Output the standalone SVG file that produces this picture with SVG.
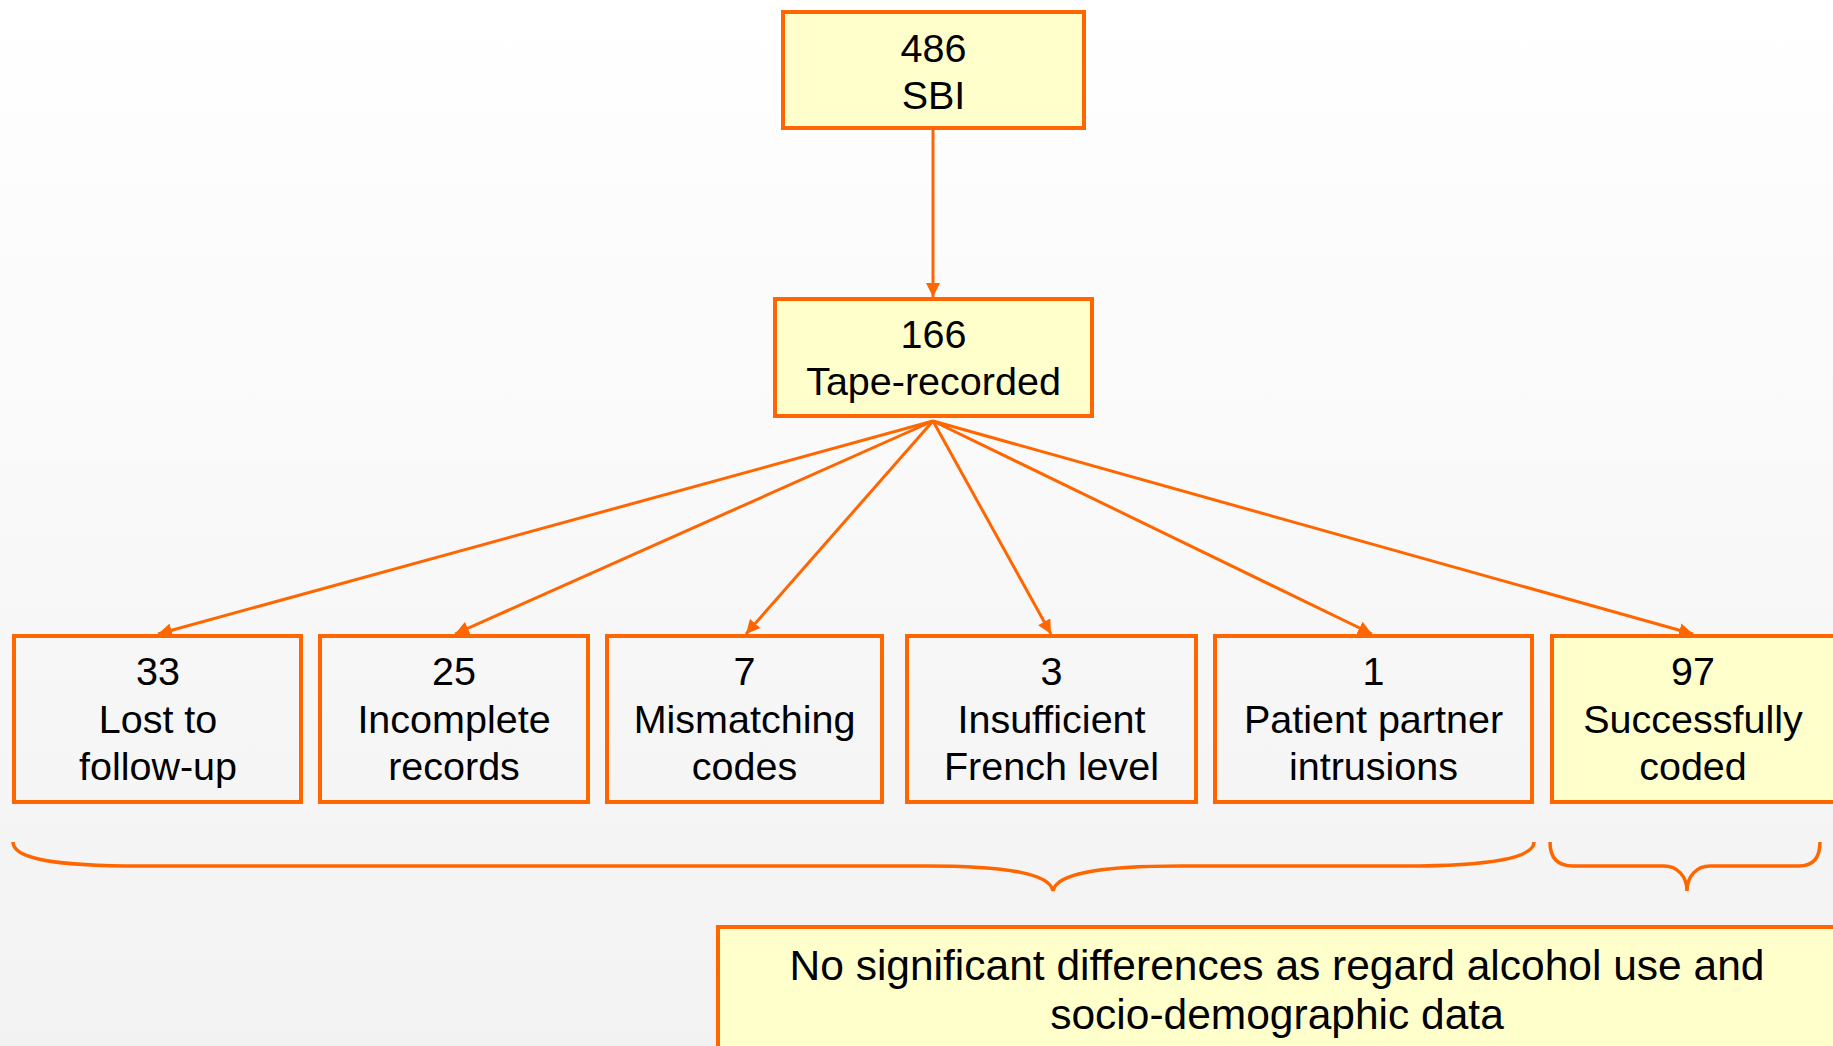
<svg xmlns="http://www.w3.org/2000/svg" width="1833" height="1046" viewBox="0 0 1833 1046">
  <defs>
    <linearGradient id="bg" x1="0" y1="0" x2="0" y2="1">
      <stop offset="0" stop-color="#ffffff"/>
      <stop offset="1" stop-color="#f2f2f2"/>
    </linearGradient>
    <marker id="arrow" markerUnits="userSpaceOnUse" markerWidth="16" markerHeight="14" refX="14" refY="7" orient="auto">
      <path d="M0,0 L14,7 L0,14 Z" fill="#ff6600"/>
    </marker>
    <style>
      .box { stroke: #ff6600; stroke-width: 4; }
      .hl { fill: #ffffcc; }
      .plain { fill: none; }
      .lbl { font-family: "Liberation Sans", Arial, sans-serif; font-size: 39.5px; fill: #000; text-anchor: middle; }
      .note { font-size: 42.5px; }
      .edge { stroke: #ff6600; stroke-width: 3; fill: none; }
      .brace { stroke: #ff6600; stroke-width: 3.5; fill: none; }
    </style>
  </defs>

  <rect width="1833" height="1046" fill="url(#bg)"/>

  <!-- connectors -->
  <g id="connectors">
    <line class="edge" x1="933" y1="130" x2="933" y2="297" marker-end="url(#arrow)"/>
    <line class="edge" x1="933" y1="421" x2="158" y2="634" marker-end="url(#arrow)"/>
    <line class="edge" x1="933" y1="421" x2="455" y2="634" marker-end="url(#arrow)"/>
    <line class="edge" x1="933" y1="421" x2="746" y2="634" marker-end="url(#arrow)"/>
    <line class="edge" x1="933" y1="421" x2="1051" y2="634" marker-end="url(#arrow)"/>
    <line class="edge" x1="933" y1="421" x2="1372" y2="634" marker-end="url(#arrow)"/>
    <line class="edge" x1="933" y1="421" x2="1693" y2="634" marker-end="url(#arrow)"/>
  </g>

  <!-- top of the flow -->
  <g id="sbi">
    <rect class="box hl" x="783" y="12" width="301" height="116"/>
    <text class="lbl" x="933.5" y="62">486</text>
    <text class="lbl" x="933.5" y="109">SBI</text>
  </g>

  <g id="tape-recorded">
    <rect class="box hl" x="775" y="299" width="317" height="117"/>
    <text class="lbl" x="933.5" y="348">166</text>
    <text class="lbl" x="933.5" y="395">Tape-recorded</text>
  </g>

  <!-- outcome row -->
  <g id="lost">
    <rect class="box plain" x="14" y="636" width="287" height="166"/>
    <text class="lbl" x="158" y="685">33</text>
    <text class="lbl" x="158" y="732.5">Lost to</text>
    <text class="lbl" x="158" y="780">follow-up</text>
  </g>

  <g id="incomplete">
    <rect class="box plain" x="320" y="636" width="268" height="166"/>
    <text class="lbl" x="454" y="685">25</text>
    <text class="lbl" x="454" y="732.5">Incomplete</text>
    <text class="lbl" x="454" y="780">records</text>
  </g>

  <g id="mismatching">
    <rect class="box plain" x="607" y="636" width="275" height="166"/>
    <text class="lbl" x="744.5" y="685">7</text>
    <text class="lbl" x="744.5" y="732.5">Mismatching</text>
    <text class="lbl" x="744.5" y="780">codes</text>
  </g>

  <g id="french">
    <rect class="box plain" x="907" y="636" width="289" height="166"/>
    <text class="lbl" x="1051.5" y="685">3</text>
    <text class="lbl" x="1051.5" y="732.5">Insufficient</text>
    <text class="lbl" x="1051.5" y="780">French level</text>
  </g>

  <g id="intrusions">
    <rect class="box plain" x="1215" y="636" width="317" height="166"/>
    <text class="lbl" x="1373.5" y="685">1</text>
    <text class="lbl" x="1373.5" y="732.5">Patient partner</text>
    <text class="lbl" x="1373.5" y="780">intrusions</text>
  </g>

  <g id="coded">
    <rect class="box hl" x="1552" y="636" width="290" height="166"/>
    <text class="lbl" x="1693" y="685">97</text>
    <text class="lbl" x="1693" y="732.5">Successfully</text>
    <text class="lbl" x="1693" y="780">coded</text>
  </g>

  <!-- grouping braces -->
  <g id="braces">
    <path class="brace" d="M13,842 C13,858 50,866 140,866 L925,866 C1010,866 1050,874 1053,891 C1056,874 1096,866 1181,866 L1405,866 C1490,866 1534,858 1534,842"/>
    <path class="brace" d="M1550,842 C1550,858 1558,866 1573,866 L1664,866 C1677,866 1687,876 1687,891 C1687,876 1697,866 1710,866 L1799,866 C1813,866 1820,858 1820,842"/>
  </g>

  <g id="conclusion">
    <rect class="box hl" x="718" y="927" width="1130" height="200"/>
    <text class="lbl note" x="1277" y="980">No significant differences as regard alcohol use and</text>
    <text class="lbl note" x="1277" y="1029">socio-demographic data</text>
  </g>
</svg>
